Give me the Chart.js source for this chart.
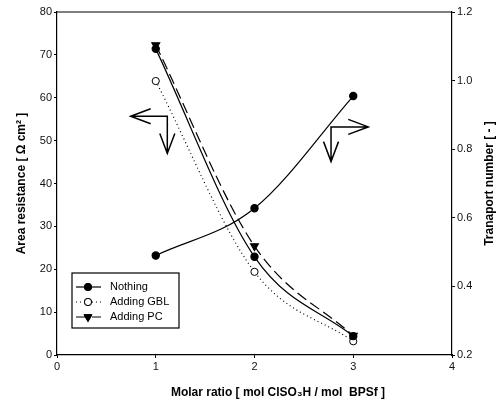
<!DOCTYPE html>
<html><head><meta charset="utf-8">
<script src="https://cdn.jsdelivr.net/npm/chart.js@4/dist/chart.umd.min.js"></script>
<style>html,body{margin:0;padding:0;background:#fff}#wrap{width:498px;height:403px}</style>
</head><body><div id="wrap"><canvas id="c" width="498" height="403"></canvas></div>
<script>
// ---- data ----
const molarRatio = [1, 2, 3];
const resNothing = [71.4, 22.9, 4.4];
const resGBL = [63.9, 19.4, 3.2];
const resPC = [72.3, 25.4, 4.5];
const transNothing = [0.49, 0.628, 0.955];
const seriesLabels = ['Nothing', 'Adding GBL', 'Adding PC'];
const xTicks = [0, 1, 2, 3, 4];
const yLeftTicks = [0, 10, 20, 30, 40, 50, 60, 70, 80];
const yRightTicks = [0.2, 0.4, 0.6, 0.8, 1.0, 1.2];
const xTitle = 'Molar ratio [ mol ClSO\u2083H / mol  BPSf ]';
const yLeftTitle = 'Area resistance [ \u03A9 cm\u00B2 ]';
const yRightTitle = 'Tranaport number [ - ]';
// annotation arrows (data units on x / left axis): corner, horizontal tip, vertical tip
const arrowLeftAxis = [[1.117, 55.7], [0.746, 55.7], [1.117, 47.0]];
const arrowRightAxis = [[2.775, 53.2], [3.152, 53.2], [2.775, 45.1]];

const pts = (ys) => molarRatio.map((x, i) => ({x: x, y: ys[i]}));
const FONT = 'Arial, "Liberation Sans", sans-serif';

const datasets = [
  {label: seriesLabels[0], data: pts(resNothing), yAxisID: 'y', borderColor: '#000', backgroundColor: '#000',
   borderWidth: 1.2, pointStyle: 'circle', pointRadius: 3.6, pointBackgroundColor: '#000', pointBorderColor: '#000',
   cubicInterpolationMode: 'monotone', fill: false},
  {label: seriesLabels[1], data: pts(resGBL), yAxisID: 'y', borderColor: '#000', backgroundColor: '#fff',
   borderWidth: 1.2, borderDash: [1, 3], pointStyle: 'circle', pointRadius: 3.6, pointBackgroundColor: '#fff', pointBorderColor: '#000', pointBorderWidth: 1,
   cubicInterpolationMode: 'monotone', fill: false},
  {label: seriesLabels[2], data: pts(resPC), yAxisID: 'y', borderColor: '#000', backgroundColor: '#000',
   borderWidth: 1.2, borderDash: [11, 5], pointStyle: 'triangle', rotation: 180, pointRadius: 4.5, pointBackgroundColor: '#000', pointBorderColor: '#000',
   cubicInterpolationMode: 'monotone', fill: false},
  {label: 'transport', data: pts(transNothing), yAxisID: 'y1', borderColor: '#000', backgroundColor: '#000',
   borderWidth: 1.2, pointStyle: 'circle', pointRadius: 3.6, pointBackgroundColor: '#000', pointBorderColor: '#000',
   cubicInterpolationMode: 'monotone', fill: false}
];

function drawArrow(ctx, sx, sy, a) {
  const c = [sx.getPixelForValue(a[0][0]), sy.getPixelForValue(a[0][1])];
  const h = [sx.getPixelForValue(a[1][0]), sy.getPixelForValue(a[1][1])];
  const v = [sx.getPixelForValue(a[2][0]), sy.getPixelForValue(a[2][1])];
  ctx.beginPath();
  ctx.moveTo(h[0], h[1]); ctx.lineTo(c[0], c[1]); ctx.lineTo(v[0], v[1]);
  const dir = Math.sign(h[0] - c[0]);
  ctx.moveTo(h[0] - dir * 20, h[1] - 7.5); ctx.lineTo(h[0], h[1]); ctx.lineTo(h[0] - dir * 20, h[1] + 7.5);
  ctx.moveTo(v[0] - 7.5, v[1] - 20); ctx.lineTo(v[0], v[1]); ctx.lineTo(v[0] + 7.5, v[1] - 20);
  ctx.stroke();
}

const decor = {
  id: 'decor',
  afterDraw(chart) {
    const ctx = chart.ctx, a = chart.chartArea;
    const sx = chart.scales.x, sy = chart.scales.y;
    ctx.save();
    ctx.strokeStyle = '#000'; ctx.lineWidth = 1.2; ctx.setLineDash([]);
    // top frame
    ctx.beginPath(); ctx.moveTo(a.left, a.top); ctx.lineTo(a.right, a.top); ctx.stroke();
    // arrows
    ctx.lineWidth = 1.5;
    drawArrow(ctx, sx, sy, arrowLeftAxis);
    drawArrow(ctx, sx, sy, arrowRightAxis);
    // titles
    ctx.fillStyle = '#000';
    ctx.font = 'bold 12px ' + FONT;
    ctx.textAlign = 'center'; ctx.textBaseline = 'middle';
    ctx.fillText(xTitle, 278, 393);
    ctx.save(); ctx.translate(22, (a.top + a.bottom) / 2); ctx.rotate(-Math.PI / 2); ctx.fillText(yLeftTitle, 0, 0); ctx.restore();
    ctx.save(); ctx.translate(490, (a.top + a.bottom) / 2); ctx.rotate(-Math.PI / 2); ctx.fillText(yRightTitle, 0, 0); ctx.restore();
    // legend
    const bx = 72, by = 273, bw = 107, bh = 55;
    ctx.fillStyle = '#fff'; ctx.fillRect(bx, by, bw, bh);
    ctx.lineWidth = 1.2; ctx.strokeRect(bx, by, bw, bh);
    const rows = [287, 302, 317];
    ctx.font = '11px ' + FONT; ctx.textAlign = 'left';
    for (let i = 0; i < 3; i++) {
      const ds = chart.data.datasets[i];
      const y = rows[i];
      ctx.setLineDash(ds.borderDash || []);
      ctx.lineWidth = 1.2;
      ctx.beginPath(); ctx.moveTo(76, y); ctx.lineTo(101, y); ctx.stroke();
      ctx.setLineDash([]);
      ctx.lineWidth = 1;
      Chart.helpers.drawPoint(ctx, {pointStyle: ds.pointStyle, rotation: ds.rotation || 0, radius: ds.pointRadius, borderWidth: 1}, 88, y);
      ctx.fillStyle = ds.pointBackgroundColor; ctx.fill(); ctx.stroke();
      ctx.fillStyle = '#000';
      ctx.fillText(ds.label, 110, y);
    }
    ctx.restore();
  }
};

const tickFont = {family: FONT, size: 11};
new Chart(document.getElementById('c'), {
  type: 'line',
  data: {datasets: datasets},
  options: {
    responsive: false, animation: false, devicePixelRatio: 1,
    layout: {padding: {top: 12, left: 0, right: 0, bottom: 0}},
    plugins: {legend: {display: false}, tooltip: {enabled: false}},
    scales: {
      x: {type: 'linear', min: 0, max: 4,
        afterBuildTicks: s => { s.ticks = xTicks.map(v => ({value: v})); },
        afterFit: s => { s.height = 48; },
        ticks: {font: tickFont, color: '#111', padding: 2, maxRotation: 0},
        grid: {drawOnChartArea: false, tickLength: 3, color: '#000'},
        border: {color: '#000', width: 1.2}},
      y: {type: 'linear', position: 'left', min: 0, max: 80,
        afterBuildTicks: s => { s.ticks = yLeftTicks.map(v => ({value: v})); },
        afterFit: s => { s.width = 57; },
        ticks: {font: tickFont, color: '#111', padding: 2},
        grid: {drawOnChartArea: false, tickLength: 3, color: '#000'},
        border: {color: '#000', width: 1.2}},
      y1: {type: 'linear', position: 'right', min: 0.2, max: 1.2,
        afterBuildTicks: s => { s.ticks = yRightTicks.map(v => ({value: v})); },
        afterFit: s => { s.width = 46; },
        ticks: {font: tickFont, color: '#111', padding: 2, callback: v => v.toFixed(1)},
        grid: {drawOnChartArea: false, tickLength: 3, color: '#000'},
        border: {color: '#000', width: 1.2}}
    }
  },
  plugins: [decor]
});
</script></body></html>
